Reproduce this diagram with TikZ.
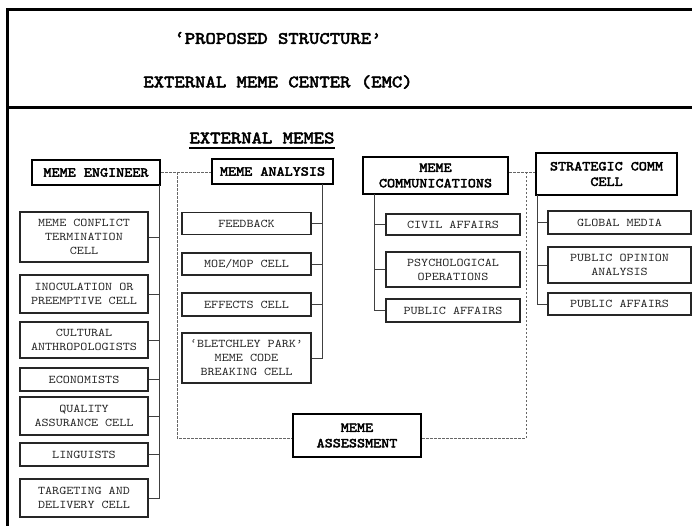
\documentclass[tikz,border=0pt]{standalone}
\usepackage{fontspec}
\newfontfamily\cour{lmmono10-regular}[Extension=.otf, FakeStretch=1.14, BoldFont=lmmono10-regular, BoldFeatures={FakeBold=3}]
\begin{document}
\begin{tikzpicture}[x=1pt,y=-1pt,
  frameline/.style={line width=3pt,black},
  headbox/.style={draw=black,line width=2pt,fill=white,inner sep=0pt,align=center,
    font=\cour\bfseries\fontsize{13.5}{15.5}\selectfont},
  cellbox/.style={draw=black!85,line width=1.3pt,fill=white,inner sep=0pt,align=center,
    text=black!85,font=\cour\fontsize{11.8}{14}\selectfont},
  trunk/.style={line width=1pt,black!75},
  dashline/.style={line width=0.8pt,black!60,dash pattern=on 2.5pt off 1.5pt},
  titletext/.style={inner sep=0pt,font=\cour\bfseries\fontsize{17.3}{20}\selectfont}]
\useasboundingbox (0,0) rectangle (692,525);
% frame
\draw[frameline] (692,9) -- (7,9) -- (7,526);
\draw[frameline] (7,107) -- (692,107);
% titles
\node[titletext] (t1) at (278,38) {‘PROPOSED STRUCTURE’};
\node[titletext] (t2) at (278,82) {EXTERNAL MEME CENTER (EMC)};
\node[titletext] (t3) at (262,138) {EXTERNAL MEMES};
\draw[line width=2pt] ([yshift=-4pt]t3.south west) -- ([yshift=-4pt]t3.south east);
% dashed links
\coordinate (dA) at (177,172);
\coordinate (dB) at (177,438);
\coordinate (dC) at (526,438);
\coordinate (dD) at (526,172);
% column 1
\node[headbox,minimum width=128,minimum height=25] (me) at (96,172.5) {MEME ENGINEER};
\node[cellbox,minimum width=128,minimum height=50] (c11) at (84,237) {MEME CONFLICT\\TERMINATION\\CELL};
\node[cellbox,minimum width=128,minimum height=38] (c12) at (84,294) {INOCULATION OR\\PREEMPTIVE CELL};
\node[cellbox,minimum width=128,minimum height=36] (c13) at (84,340) {CULTURAL\\ANTHROPOLOGISTS};
\node[cellbox,minimum width=128,minimum height=23] (c14) at (84,379.5) {ECONOMISTS};
\node[cellbox,minimum width=128,minimum height=23] (c16) at (84,454.5) {LINGUISTS};
\node[cellbox,minimum width=128,minimum height=38] (c15) at (84,416) {QUALITY\\ASSURANCE CELL};
\node[cellbox,minimum width=128,minimum height=38] (c17) at (84,498) {TARGETING AND\\DELIVERY CELL};
\coordinate (t1top) at (159,185);
\draw[trunk] (t1top) |- (c17.east);
\foreach \c in {c11,c12,c13,c14,c15,c16}
  \draw[trunk] (\c.east) -- (\c.east -| t1top);
% column 2
\node[headbox,minimum width=121,minimum height=25] (ma) at (272.5,171.5) {MEME ANALYSIS};
\node[cellbox,minimum width=129,minimum height=22] (c21) at (246.5,223.5) {FEEDBACK};
\node[cellbox,minimum width=129,minimum height=22] (c22) at (246.5,264) {MOE/MOP CELL};
\node[cellbox,minimum width=129,minimum height=23] (c23) at (246.5,304.5) {EFFECTS CELL};
\node[cellbox,minimum width=129,minimum height=50] (c24) at (246.5,358) {‘BLETCHLEY PARK’\\MEME CODE\\BREAKING CELL};
\coordinate (t2top) at (322,184);
\draw[trunk] (t2top) |- (c24.east);
\foreach \c in {c21,c22,c23}
  \draw[trunk] (\c.east) -- (\c.east -| t2top);
% column 3
\node[headbox,minimum width=145,minimum height=37] (mc) at (435.5,175.5) {MEME\\COMMUNICATIONS};
\node[cellbox,minimum width=134,minimum height=21] (c31) at (453,224.5) {CIVIL AFFAIRS};
\node[cellbox,minimum width=134,minimum height=35] (c32) at (453,269.5) {PSYCHOLOGICAL\\OPERATIONS};
\node[cellbox,minimum width=134,minimum height=23] (c33) at (453,310.5) {PUBLIC AFFAIRS};
\coordinate (t3top) at (374,194);
\draw[trunk] (t3top) |- (c33.west);
\foreach \c in {c31,c32}
  \draw[trunk] (\c.west) -- (\c.west -| t3top);
% column 4
\node[headbox,minimum width=141,minimum height=42] (sc) at (606.5,174) {STRATEGIC COMM\\CELL};
\node[cellbox,minimum width=143,minimum height=23] (c41) at (619.5,222.5) {GLOBAL MEDIA};
\node[cellbox,minimum width=143,minimum height=36] (c42) at (619.5,265) {PUBLIC OPINION\\ANALYSIS};
\node[cellbox,minimum width=143,minimum height=22] (c43) at (619.5,304) {PUBLIC AFFAIRS};
\coordinate (t4top) at (537.5,195);
\draw[trunk] (t4top) |- (c43.west);
\foreach \c in {c41,c42}
  \draw[trunk] (\c.west) -- (\c.west -| t4top);
% assessment
\node[headbox,minimum width=128,minimum height=43] (as) at (357,435.5) {MEME\\ASSESSMENT};
% dashed connectors
\draw[dashline] (me.east |- dA) -- (ma.west |- dA);
\draw[dashline] (dA) -- (dB) -- (as.west |- dB);
\draw[dashline] (as.east |- dC) -- (dC) -- (dD);
\draw[dashline] (mc.east |- dD) -- (sc.west |- dD);
\end{tikzpicture}
\end{document}
